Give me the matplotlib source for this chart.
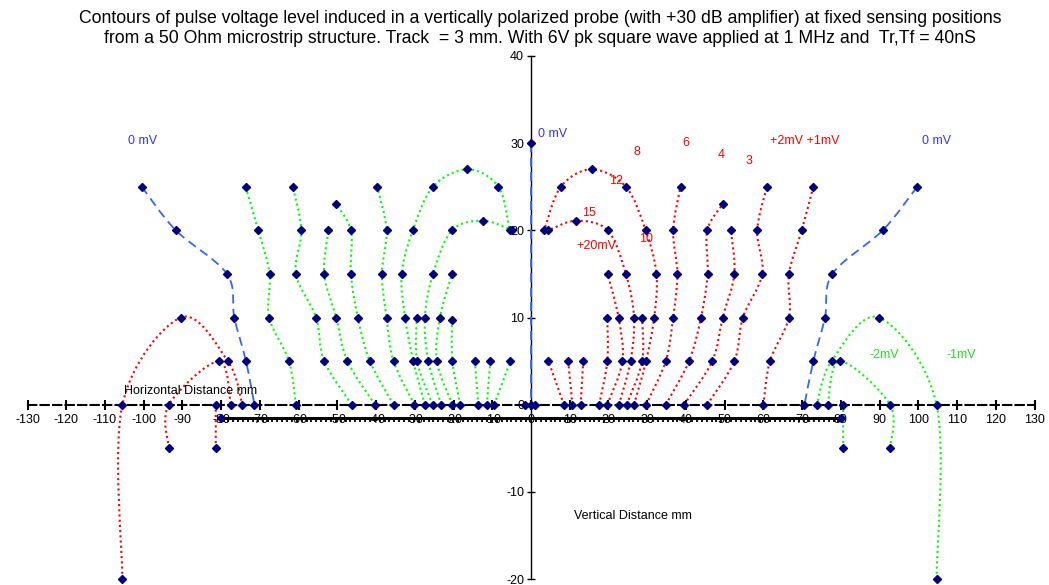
import numpy as np
import matplotlib
matplotlib.use("Agg")
import matplotlib.pyplot as plt
from matplotlib.path import Path
from matplotlib.patches import PathPatch
import matplotlib.patheffects as pe

plt.rcParams['font.family'] = ['Liberation Sans', 'DejaVu Sans']
plt.rcParams['axes.unicode_minus'] = False

# === DONNEES (mm) ===
# contours 0 mV (bleu)
blue_left_x = [-100.5, -91.7, -78.5, -76.6, -73.6, -71.4]
blue_left_y = [25, 20, 15, 10, 5, 0]
blue_mid_x = [0, 0]
blue_mid_y = [30, 0]
blue_right_x = [99.7, 90.8, 77.8, 75.9, 72.9, 70.6]
blue_right_y = [25, 20, 15, 10, 5, 0]

# contours positifs (rouge)
redA_x = [-105.5, -105.5, -90.4, -78.3, -74.5]
redA_y = [-20, 0, 10, 5, 0]
redB_x = [-93.5, -93.5, -80.6, -77.5]
redB_y = [-5, 0, 5, 0]
redC_x = [-81.4, -81.4]
redC_y = [-5, 0]
red8_x = [26.6, 29.7, 31.8, 32.4, 29.6, 24.5, 15.7, 7.7, 3.4]
red8_y = [0, 5, 10, 15, 20, 25, 27, 25, 20]
red15_x = [22.7, 25.7, 26.6, 24.5, 19.8, 11.6, 4.5]
red15_y = [0, 5, 10, 15, 20, 21.1, 20]
red20_x = [19.7, 23.6, 22.6, 19.8]
red20_y = [0, 5, 10, 15]
red9_x = [17.6, 19.7, 19.7]
red9_y = [0, 5, 10]
red10_x = [24.7, 28.7, 28.7]
red10_y = [0, 5, 10]
red6_x = [29.7, 34.8, 36.7, 37.8, 36.7, 38.6]
red6_y = [0, 5, 10, 15, 20, 25]
red4_x = [34.8, 40.8, 43.9, 45.6, 45.5, 49.5]
red4_y = [0, 5, 10, 15, 20, 23]
red3_x = [39.5, 46.8, 49.5, 52.5, 51.6]
red3_y = [0, 5, 10, 15, 20]
red2mv_x = [45.5, 52.5, 54.7, 59.7, 58.4, 60.9]
red2mv_y = [0, 5, 10, 15, 20, 25]
red1mv_x = [60.0, 61.7, 66.6, 66.6, 69.9, 72.9]
red1mv_y = [0, 5, 10, 15, 20, 25]
redS1_x = [12.8, 13.5]
redS2_x = [10.7, 9.6]
redS3_x = [8.5, 4.5]
short_y = [0, 5]

# contours negatifs (vert)
g0_x = [-60.7, -62.5, -67.6, -67.5, -70.4, -73.7]
g0_y = [0, 5, 10, 15, 20, 25]
g1_x = [-46.3, -53.4, -55.5, -60.7, -59.3, -61.5]
g1_y = [0, 5, 10, 15, 20, 25]
g2_x = [-40.3, -47.4, -50.3, -53.4, -52.3]
g2_y = [0, 5, 10, 15, 20]
g3_x = [-35.5, -41.6, -44.7, -46.5, -46.5, -50.3]
g3_y = [0, 5, 10, 15, 20, 23]
g4_x = [-30.1, -35.5, -37.3, -38.5, -37.3, -39.7]
g4_y = [0, 5, 10, 15, 20, 25]
gArc1_x = [-27.4, -30.4, -32.5, -33.4, -30.5, -25.3, -16.4, -8.4, -5.5]
gArc1_y = [0, 5, 10, 15, 20, 25, 27, 25, 20]
gArc2_x = [-23.2, -26.5, -27.4, -25.3, -20.4, -12.3, -4.8]
gArc2_y = [0, 5, 10, 15, 20, 21.1, 20]
g6_x = [-25.4, -29.4, -29.5]
g6_y = [0, 5, 10]
g8_x = [-20.3, -24.3, -23.5, -20.4]
g8_y = [0, 5, 10, 15]
g9_x = [-18.3, -20.3, -20.4]
g9_y = [0, 5, 9.7]
gS1_x = [-13.6, -14.5]
gS2_x = [-11.4, -10.5]
gS3_x = [-9.5, -5.3]
gA_x = [104.7, 104.7, 89.9, 77.6, 73.8]
gA_y = [-20, 0, 10, 5, 0]
gB_x = [92.7, 92.7, 79.8, 76.6]
gB_y = [-5, 0, 5, 0]
gC_x = [80.6, 80.6]
gC_y = [-5, 0]

# points isoles pres de l'axe
extra_x = [-1.5, 1.1]
extra_y = [0, 0]

# piste microstrip
strip_x = [-80, 80]
strip_y = [-1.5, -1.5]

xticks = np.arange(-130, 131, 10)
yticks = np.arange(-20, 41, 10)

title = ("Contours of pulse voltage level induced in a vertically polarized probe (with +30 dB amplifier) at fixed sensing positions\n"
         "from a 50 Ohm microstrip structure. Track  = 3 mm. With 6V pk square wave applied at 1 MHz and  Tr,Tf = 40nS")

RED = "#ff0000"
GREEN = "#00ff00"
BLUE = "#3366ff"
NAVY = "#000080"
DOT = (0, (1, 1.5))
DASH = (0, (5, 3))

series = [
    (blue_left_x, blue_left_y, BLUE, DASH),
    (blue_mid_x, blue_mid_y, BLUE, DASH),
    (blue_right_x, blue_right_y, BLUE, DASH),
    (redA_x, redA_y, RED, DOT), (redB_x, redB_y, RED, DOT), (redC_x, redC_y, RED, DOT),
    (red8_x, red8_y, RED, DOT), (red15_x, red15_y, RED, DOT), (red20_x, red20_y, RED, DOT),
    (red9_x, red9_y, RED, DOT), (red10_x, red10_y, RED, DOT), (red6_x, red6_y, RED, DOT),
    (red4_x, red4_y, RED, DOT), (red3_x, red3_y, RED, DOT), (red2mv_x, red2mv_y, RED, DOT),
    (red1mv_x, red1mv_y, RED, DOT),
    (redS1_x, short_y, RED, DOT), (redS2_x, short_y, RED, DOT), (redS3_x, short_y, RED, DOT),
    (g0_x, g0_y, GREEN, DOT), (g1_x, g1_y, GREEN, DOT), (g2_x, g2_y, GREEN, DOT),
    (g3_x, g3_y, GREEN, DOT), (g4_x, g4_y, GREEN, DOT), (gArc1_x, gArc1_y, GREEN, DOT),
    (gArc2_x, gArc2_y, GREEN, DOT), (g6_x, g6_y, GREEN, DOT), (g8_x, g8_y, GREEN, DOT),
    (g9_x, g9_y, GREEN, DOT),
    (gS1_x, short_y, GREEN, DOT), (gS2_x, short_y, GREEN, DOT), (gS3_x, short_y, GREEN, DOT),
    (gA_x, gA_y, GREEN, DOT), (gB_x, gB_y, GREEN, DOT), (gC_x, gC_y, GREEN, DOT),
]


def smooth_path(xs, ys):
    # courbe lissee facon Excel (Catmull-Rom -> Bezier)
    pts = np.column_stack([xs, ys]).astype(float)
    n = len(pts)
    verts = [pts[0]]
    codes = [Path.MOVETO]
    for i in range(n - 1):
        p0 = pts[max(i - 1, 0)]
        p1 = pts[i]
        p2 = pts[i + 1]
        p3 = pts[min(i + 2, n - 1)]
        verts += [p1 + (p2 - p0) / 6, p2 - (p3 - p1) / 6, p2]
        codes += [Path.CURVE4] * 3
    return Path(verts, codes)


fig = plt.figure(figsize=(10.49, 5.85), dpi=100)
ax = fig.add_axes([27.5 / 1049, 6 / 585, 1007 / 1049, 523 / 585])
ax.set_xlim(-130, 130)
ax.set_ylim(-20, 40)

for s in ["top", "right"]:
    ax.spines[s].set_visible(False)
ax.spines["left"].set_position("zero")
ax.spines["bottom"].set_position("zero")
ax.spines["bottom"].set_linestyle((0, (4, 2)))
ax.spines["bottom"].set_linewidth(1.5)
ax.spines["left"].set_linewidth(1.0)
ax.set_xticks(xticks)
ax.set_yticks(yticks)
ax.tick_params(axis="x", direction="inout", length=7, width=1.5, labelsize=9, pad=3)
ax.tick_params(axis="y", direction="inout", length=6, width=1, labelsize=9, pad=2)

for xs, ys, col, ls in series:
    lw = 1.3 if ls == DASH else 1.5
    ax.add_patch(PathPatch(smooth_path(xs, ys), fill=False, edgecolor=col,
                           lw=lw, linestyle=ls, zorder=3, clip_on=False))
    ax.plot(xs, ys, "D", color=NAVY, ms=4.5, zorder=5, clip_on=False)

ax.plot(extra_x, extra_y, "D", color=NAVY, ms=4.5, zorder=5)

ax.plot(strip_x, strip_y, color="black", lw=2, zorder=6, solid_capstyle="butt",
        path_effects=[pe.Stroke(), pe.withTickedStroke(spacing=3.5, angle=-90, length=0.8, linewidth=1.3)])
ax.plot(strip_x, strip_y, "D", color=NAVY, ms=4.5, zorder=7)

# etiquettes des contours
ax.text(-100.2, 30.3, "0 mV", color="#3333ff", fontsize=9, ha="center", va="center")
ax.text(1.8, 31.1, "0 mV", color="#3333ff", fontsize=9, ha="left", va="center")
ax.text(104.6, 30.3, "0 mV", color="#3333ff", fontsize=9, ha="center", va="center")
ax.text(70.7, 30.3, "+2mV +1mV", color=RED, fontsize=9, ha="center", va="center")
ax.text(40, 30, "6", color=RED, fontsize=9, ha="center", va="center")
ax.text(27.4, 29, "8", color=RED, fontsize=9, ha="center", va="center")
ax.text(49, 28.6, "4", color=RED, fontsize=9, ha="center", va="center")
ax.text(56.3, 27.9, "3", color=RED, fontsize=9, ha="center", va="center")
ax.text(21.9, 25.7, "12", color=RED, fontsize=9, ha="center", va="center")
ax.text(15, 22, "15", color=RED, fontsize=9, ha="center", va="center")
ax.text(29.7, 19, "10", color=RED, fontsize=9, ha="center", va="center")
ax.text(17, 18.2, "+20mV", color=RED, fontsize=9, ha="center", va="center")
ax.text(91.1, 5.7, "-2mV", color="#22dd22", fontsize=9, ha="center", va="center")
ax.text(111, 5.7, "-1mV", color="#22dd22", fontsize=9, ha="center", va="center")

ax.text(-88, 1.6, "Horizontal Distance mm", fontsize=9, ha="center", va="center", zorder=8)
ax.text(26.3, -12.8, "Vertical Distance mm", fontsize=9, ha="center", va="center")

fig.text(540 / 1049, 1 - 28.5 / 585, title, ha="center", va="center", fontsize=12.7, linespacing=1.2)

fig.savefig("out.png", dpi=100)
